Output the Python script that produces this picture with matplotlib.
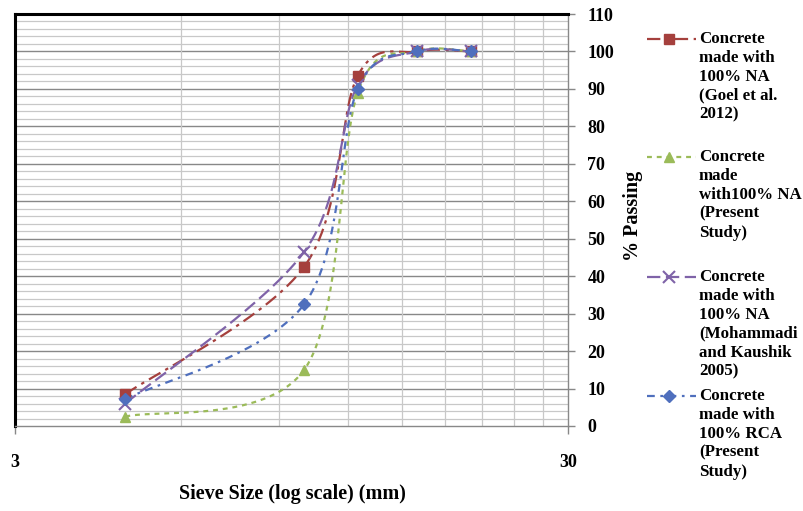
import numpy as np
import matplotlib
matplotlib.use("Agg")
import matplotlib.pyplot as plt
from matplotlib.lines import Line2D
from matplotlib.ticker import FixedLocator, NullFormatter

# ---- data ----
sieve_mm = [4.75, 10, 12.5, 16, 20]
goel_na = [8.5, 42.5, 93.5, 100, 100]
present_na = [2.5, 15, 89, 100, 100]
mohammadi_na = [6, 46.5, 91, 100, 100]
present_rca = [7.2, 32.5, 90, 100, 100]

series_labels = [
    "Concrete\nmade with\n100% NA\n(Goel et al.\n2012)",
    "Concrete\nmade\nwith100% NA\n(Present\nStudy)",
    "Concrete\nmade with\n100% NA\n(Mohammadi\nand Kaushik\n2005)",
    "Concrete\nmade with\n100% RCA\n(Present\nStudy)",
]
y_ticks = list(range(0, 111, 10))
x_tick_labels = ["3", "30"]

SERIF = "Liberation Serif"
plt.rcParams["font.family"] = [SERIF, "DejaVu Serif"]


def smooth(xs, ys, n=60):
    """Catmull-Rom (Excel-style) smoothing in (log10 x, y) space."""
    lx = np.log10(np.asarray(xs, float))
    yy = np.asarray(ys, float)
    P = np.column_stack([lx, yy])
    P = np.vstack([P[0], P, P[-1]])
    out = []
    t = np.linspace(0, 1, n)
    for i in range(1, len(P) - 2):
        p0, p1, p2, p3 = P[i - 1], P[i], P[i + 1], P[i + 2]
        c1 = p1 + (p2 - p0) / 6.0
        c2 = p2 - (p3 - p1) / 6.0
        seg = (((1 - t) ** 3)[:, None] * p1 + (3 * (1 - t) ** 2 * t)[:, None] * c1
               + (3 * (1 - t) * t ** 2)[:, None] * c2 + (t ** 3)[:, None] * p2)
        out.append(seg if i == 1 else seg[1:])
    seg = np.vstack(out)
    return 10 ** seg[:, 0], seg[:, 1]


fig = plt.figure(figsize=(8.04, 5.11), dpi=100)
ax = fig.add_axes([15 / 804, 1 - 426 / 511, (568 - 15) / 804, (426 - 14) / 511])

ax.set_xscale("log")
ax.set_xlim(3, 30)
ax.set_ylim(0, 110)

# grid
for v in np.arange(2, 110, 2):
    ax.axhline(v, color="#888888" if v % 10 == 0 else "#C8C8C8",
               lw=1.0 if v % 10 == 0 else 0.9, zorder=0)
for v in [6, 9, 12, 15, 18, 21, 24, 27]:
    ax.axvline(v, color="#C8C8C8", lw=0.9, zorder=0)

styles = [
    dict(color="#A5403D", marker="s", ms=7.5, ls=(0, (6, 2.5, 1.5, 2.5)), mfc="#A5403D", mec="#A5403D"),
    dict(color="#9BBB59", marker="^", ms=7.5, ls=(0, (2.2, 2.2)), mfc="#9BBB59", mec="#9BBB59"),
    dict(color="#7F63A8", marker="x", ms=8, ls=(0, (6, 2.5)), mfc="#7F63A8", mec="#7F63A8", mew=1.5),
    dict(color="#4F6FBD", marker="D", ms=6.5, ls=(0, (3.5, 2.5, 1.2, 2.5)), mfc="#4F6FBD", mec="#4F6FBD"),
]
data = [goel_na, present_na, mohammadi_na, present_rca]

for ys, st in zip(data, styles):
    sx, sy = smooth(sieve_mm, ys)
    ax.plot(sx, sy, color=st["color"], ls=st["ls"], lw=1.6, zorder=3)
    ax.plot(sieve_mm, ys, ls="none", marker=st["marker"], ms=st["ms"],
            mfc=st["mfc"], mec=st["mec"], mew=st.get("mew", 1.0), zorder=4)

# spines
for s in ["left", "top"]:
    ax.spines[s].set_color("black")
    ax.spines[s].set_linewidth(2.2)
for s in ["right", "bottom"]:
    ax.spines[s].set_color("#888888")
    ax.spines[s].set_linewidth(1.0)

# y axis on right
ax.yaxis.tick_right()
ax.set_yticks(y_ticks)
ax.set_yticklabels([str(v) for v in y_ticks], fontsize=13, fontweight="bold")
ax.tick_params(axis="y", which="major", direction="out", length=5, width=1,
               color="#888888", pad=9, left=False, right=True)
for lab in ax.get_yticklabels():
    lab.set_horizontalalignment("left")

# x axis
ax.xaxis.set_major_locator(FixedLocator([3, 30]))
ax.xaxis.set_minor_locator(FixedLocator([]))
ax.xaxis.set_minor_formatter(NullFormatter())
ax.set_xticklabels(x_tick_labels, fontsize=13, fontweight="bold")
ax.tick_params(axis="x", which="major", direction="out", length=6, width=1,
               color="#888888", pad=14)

fig.text(292 / 804, 1 - 494 / 511, "Sieve Size (log scale) (mm)", ha="center", va="center",
         fontsize=14.5, fontweight="bold")
fig.text(633 / 804, 1 - 216 / 511, "% Passing", ha="center", va="center", rotation=90,
         fontsize=14.5, fontweight="bold")

# legend (manual, handles aligned with first line)
entry_y = [39, 157, 277, 396]
for lab, st, yp in zip(series_labels, styles, entry_y):
    yf = 1 - yp / 511
    fig.add_artist(Line2D([647 / 804, 696 / 804], [yf, yf], color=st["color"], ls=st["ls"],
                          lw=1.6, transform=fig.transFigure))
    fig.add_artist(Line2D([669 / 804], [yf], ls="none", marker=st["marker"], ms=st["ms"],
                          mfc=st["mfc"], mec=st["mec"], mew=st.get("mew", 1.0),
                          transform=fig.transFigure))
    fig.text(699 / 804, 1 - (yp - 8) / 511, lab, ha="left", va="top", fontsize=12.2,
             fontweight="bold", linespacing=1.24)

fig.savefig("out.png", dpi=100)
